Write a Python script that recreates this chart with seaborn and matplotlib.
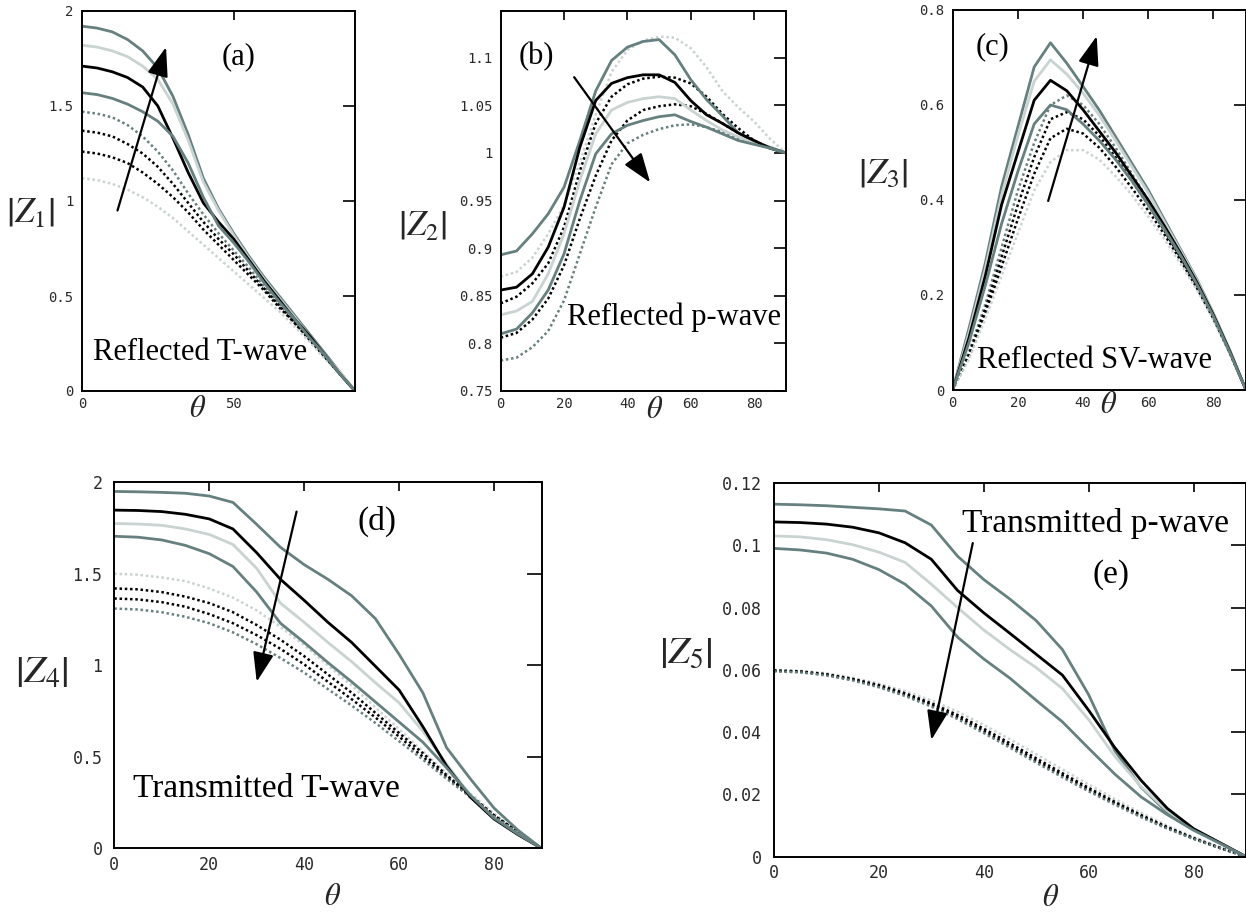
import matplotlib
matplotlib.use("Agg")
import matplotlib.pyplot as plt
import seaborn as sns
import pandas as pd

# incidence angle (degrees)
theta = [0, 5, 10, 15, 20, 25, 30, 35, 40, 45, 50, 55, 60, 65, 70, 75, 80, 85, 90]

# |Z1| reflected T-wave: four solid, four dotted curves
z1_solid = [
    [1.92, 1.91, 1.89, 1.85, 1.79, 1.70, 1.55, 1.35, 1.12, 0.96, 0.83, 0.71, 0.60, 0.50, 0.40, 0.30, 0.20, 0.10, 0.0],
    [1.82, 1.81, 1.79, 1.76, 1.71, 1.64, 1.51, 1.32, 1.10, 0.95, 0.82, 0.70, 0.59, 0.49, 0.39, 0.29, 0.19, 0.10, 0.0],
    [1.71, 1.70, 1.68, 1.65, 1.60, 1.50, 1.33, 1.15, 0.99, 0.89, 0.80, 0.69, 0.58, 0.48, 0.38, 0.29, 0.19, 0.09, 0.0],
    [1.57, 1.56, 1.54, 1.51, 1.47, 1.42, 1.34, 1.20, 1.02, 0.87, 0.78, 0.68, 0.57, 0.47, 0.38, 0.28, 0.19, 0.09, 0.0],
]
z1_dotted = [
    [1.47, 1.46, 1.44, 1.40, 1.34, 1.26, 1.16, 1.04, 0.93, 0.83, 0.74, 0.65, 0.55, 0.46, 0.37, 0.28, 0.18, 0.09, 0.0],
    [1.37, 1.36, 1.34, 1.30, 1.25, 1.18, 1.09, 0.99, 0.89, 0.80, 0.72, 0.63, 0.54, 0.45, 0.36, 0.27, 0.18, 0.09, 0.0],
    [1.26, 1.25, 1.23, 1.20, 1.15, 1.09, 1.02, 0.94, 0.85, 0.77, 0.69, 0.61, 0.53, 0.44, 0.36, 0.27, 0.18, 0.09, 0.0],
    [1.12, 1.11, 1.09, 1.06, 1.02, 0.97, 0.91, 0.84, 0.77, 0.70, 0.63, 0.56, 0.49, 0.42, 0.34, 0.26, 0.17, 0.09, 0.0],
]

# |Z2| reflected p-wave
z2_solid = [
    [0.893, 0.897, 0.915, 0.936, 0.964, 1.013, 1.065, 1.097, 1.111, 1.117, 1.119, 1.103, 1.077, 1.056, 1.039, 1.021, 1.012, 1.006, 1.0],
    [0.830, 0.834, 0.844, 0.873, 0.915, 0.971, 1.020, 1.045, 1.053, 1.057, 1.059, 1.057, 1.045, 1.034, 1.024, 1.017, 1.010, 1.005, 1.0],
    [0.856, 0.859, 0.873, 0.901, 0.943, 1.006, 1.055, 1.073, 1.079, 1.082, 1.082, 1.074, 1.055, 1.040, 1.031, 1.021, 1.013, 1.005, 1.0],
    [0.810, 0.815, 0.832, 0.856, 0.894, 0.950, 0.999, 1.020, 1.029, 1.034, 1.038, 1.040, 1.033, 1.027, 1.020, 1.013, 1.009, 1.005, 1.0],
]
z2_dotted = [
    [0.870, 0.875, 0.890, 0.915, 0.945, 0.990, 1.040, 1.085, 1.108, 1.118, 1.122, 1.121, 1.110, 1.090, 1.065, 1.048, 1.033, 1.015, 1.0],
    [0.842, 0.849, 0.863, 0.884, 0.922, 0.981, 1.031, 1.059, 1.072, 1.078, 1.080, 1.079, 1.073, 1.059, 1.041, 1.026, 1.013, 1.005, 1.0],
    [0.806, 0.811, 0.825, 0.847, 0.882, 0.931, 0.976, 1.013, 1.034, 1.045, 1.049, 1.051, 1.049, 1.041, 1.031, 1.021, 1.013, 1.005, 1.0],
    [0.782, 0.785, 0.796, 0.813, 0.845, 0.894, 0.943, 0.988, 1.010, 1.019, 1.025, 1.029, 1.030, 1.027, 1.022, 1.015, 1.010, 1.005, 1.0],
]

# |Z3| reflected SV-wave
z3_solid = [
    [0.0, 0.13, 0.267, 0.428, 0.554, 0.680, 0.731, 0.688, 0.639, 0.589, 0.533, 0.477, 0.421, 0.358, 0.295, 0.232, 0.161, 0.084, 0.0],
    [0.0, 0.12, 0.255, 0.410, 0.535, 0.650, 0.695, 0.665, 0.625, 0.578, 0.525, 0.470, 0.415, 0.353, 0.292, 0.230, 0.160, 0.083, 0.0],
    [0.0, 0.11, 0.240, 0.390, 0.500, 0.610, 0.652, 0.630, 0.590, 0.545, 0.500, 0.450, 0.400, 0.345, 0.287, 0.226, 0.158, 0.082, 0.0],
    [0.0, 0.10, 0.220, 0.350, 0.460, 0.560, 0.600, 0.590, 0.560, 0.525, 0.485, 0.440, 0.390, 0.338, 0.283, 0.222, 0.155, 0.080, 0.0],
]
z3_dotted = [
    [0.0, 0.080, 0.180, 0.300, 0.420, 0.520, 0.600, 0.620, 0.600, 0.560, 0.510, 0.455, 0.400, 0.342, 0.283, 0.222, 0.155, 0.080, 0.0],
    [0.0, 0.075, 0.170, 0.280, 0.390, 0.490, 0.570, 0.585, 0.570, 0.535, 0.490, 0.440, 0.390, 0.335, 0.278, 0.218, 0.153, 0.080, 0.0],
    [0.0, 0.070, 0.160, 0.260, 0.360, 0.455, 0.530, 0.550, 0.540, 0.510, 0.470, 0.425, 0.378, 0.327, 0.272, 0.214, 0.150, 0.078, 0.0],
    [0.0, 0.065, 0.150, 0.240, 0.330, 0.420, 0.480, 0.505, 0.505, 0.485, 0.450, 0.410, 0.365, 0.317, 0.265, 0.210, 0.147, 0.076, 0.0],
]

# |Z4| transmitted T-wave
z4_solid = [
    [1.950, 1.948, 1.945, 1.940, 1.925, 1.890, 1.770, 1.645, 1.550, 1.470, 1.380, 1.255, 1.060, 0.850, 0.550, 0.380, 0.220, 0.100, 0.0],
    [1.775, 1.772, 1.765, 1.745, 1.715, 1.660, 1.530, 1.340, 1.235, 1.125, 1.020, 0.905, 0.795, 0.640, 0.460, 0.290, 0.165, 0.078, 0.0],
    [1.848, 1.846, 1.840, 1.825, 1.800, 1.745, 1.615, 1.470, 1.355, 1.235, 1.125, 0.995, 0.865, 0.665, 0.450, 0.280, 0.160, 0.075, 0.0],
    [1.705, 1.700, 1.685, 1.655, 1.610, 1.540, 1.400, 1.230, 1.125, 1.015, 0.910, 0.800, 0.690, 0.580, 0.440, 0.290, 0.165, 0.078, 0.0],
]
z4_dotted = [
    [1.500, 1.495, 1.480, 1.460, 1.420, 1.370, 1.300, 1.210, 1.110, 1.000, 0.890, 0.770, 0.650, 0.530, 0.410, 0.300, 0.190, 0.090, 0.0],
    [1.420, 1.415, 1.400, 1.375, 1.340, 1.290, 1.220, 1.140, 1.050, 0.950, 0.850, 0.740, 0.630, 0.520, 0.400, 0.290, 0.180, 0.090, 0.0],
    [1.365, 1.360, 1.345, 1.320, 1.280, 1.230, 1.165, 1.090, 1.005, 0.910, 0.815, 0.715, 0.610, 0.500, 0.390, 0.285, 0.180, 0.090, 0.0],
    [1.310, 1.305, 1.290, 1.265, 1.230, 1.180, 1.115, 1.040, 0.960, 0.870, 0.780, 0.685, 0.585, 0.485, 0.380, 0.280, 0.175, 0.085, 0.0],
]

# |Z5| transmitted p-wave
z5_solid = [
    [0.1132, 0.1130, 0.1127, 0.1122, 0.1117, 0.1110, 0.1065, 0.0965, 0.0890, 0.0827, 0.0758, 0.0665, 0.0520, 0.0340, 0.0223, 0.0142, 0.0087, 0.0045, 0.0],
    [0.1030, 0.1027, 0.1018, 0.1002, 0.0978, 0.0945, 0.0875, 0.0800, 0.0728, 0.0665, 0.0607, 0.0540, 0.0440, 0.0322, 0.0225, 0.0148, 0.0088, 0.0044, 0.0],
    [0.1075, 0.1073, 0.1068, 0.1058, 0.1040, 0.1008, 0.0955, 0.0855, 0.0783, 0.0717, 0.0650, 0.0583, 0.0470, 0.0350, 0.0245, 0.0155, 0.0090, 0.0045, 0.0],
    [0.0990, 0.0985, 0.0975, 0.0955, 0.0922, 0.0875, 0.0805, 0.0705, 0.0635, 0.0573, 0.0502, 0.0433, 0.0348, 0.0265, 0.0192, 0.0135, 0.0085, 0.0043, 0.0],
]
z5_dotted = [
    [0.0600, 0.0597, 0.0589, 0.0575, 0.0556, 0.0532, 0.0502, 0.0466, 0.0423, 0.0377, 0.0329, 0.0280, 0.0232, 0.0185, 0.0141, 0.0100, 0.0063, 0.0030, 0.0],
    [0.0598, 0.0595, 0.0586, 0.0571, 0.0551, 0.0525, 0.0493, 0.0455, 0.0411, 0.0364, 0.0316, 0.0268, 0.0221, 0.0176, 0.0134, 0.0095, 0.0060, 0.0029, 0.0],
    [0.0597, 0.0594, 0.0584, 0.0568, 0.0547, 0.0520, 0.0487, 0.0448, 0.0403, 0.0356, 0.0308, 0.0261, 0.0215, 0.0171, 0.0130, 0.0092, 0.0058, 0.0028, 0.0],
    [0.0595, 0.0592, 0.0582, 0.0566, 0.0544, 0.0516, 0.0482, 0.0442, 0.0397, 0.0350, 0.0302, 0.0255, 0.0210, 0.0167, 0.0127, 0.0090, 0.0057, 0.0028, 0.0],
]

SLATE = "#66807f"
LIGHT = "#c9d3d2"
BLACK = "#000000"
solid_colors = [SLATE, LIGHT, BLACK, SLATE]
dot_colors = {
    "a": [SLATE, BLACK, BLACK, LIGHT],
    "b": [LIGHT, BLACK, BLACK, SLATE],
    "c": [SLATE, BLACK, BLACK, LIGHT],
    "d": [LIGHT, BLACK, BLACK, SLATE],
    "e": [LIGHT, BLACK, BLACK, SLATE],
}

sns.set_style("white")
plt.rcParams["mathtext.fontset"] = "stix"
SERIF = ["Liberation Serif", "DejaVu Serif"]
TICKFONT = "DejaVu Sans Mono"

W, H = 1246, 913
fig = plt.figure(figsize=(W / 100, H / 100), dpi=100)


def add_axes_px(x0, y0, x1, y1):
    return fig.add_axes([x0 / W, 1 - y1 / H, (x1 - x0) / W, (y1 - y0) / H])


def draw_panel(ax, solid, dotted, dcols, ylim, yticks, ylabels, xticks, small):
    for vals, col in zip(dotted, dcols):
        df = pd.DataFrame({"theta": theta, "z": vals})
        sns.lineplot(data=df, x="theta", y="z", ax=ax, color=col, lw=1.8,
                     linestyle=(0, (1.0, 1.1)), sort=False, estimator=None)
    for vals, col in zip(solid, solid_colors):
        df = pd.DataFrame({"theta": theta, "z": vals})
        sns.lineplot(data=df, x="theta", y="z", ax=ax, color=col, lw=2.0,
                     sort=False, estimator=None)
    ax.set_xlim(0, 90)
    ax.set_ylim(*ylim)
    ax.set_xticks(xticks)
    ax.set_xticklabels([str(t) for t in xticks])
    ax.set_yticks(yticks)
    ax.set_yticklabels(ylabels)
    fs = 10 if small else 12
    ax.tick_params(axis="both", direction="in", top=True, right=True,
                   labelsize=fs, labelcolor="#2a2a2a", width=1.2, color="black")
    ax.tick_params(axis="x", length=6.5, pad=4.5 if small else 5.5)
    ax.tick_params(axis="y", length=9 if small else 11, pad=6 if small else 8.5)
    for lab in ax.get_xticklabels() + ax.get_yticklabels():
        lab.set_fontfamily(TICKFONT)
    for sp in ax.spines.values():
        sp.set_visible(True)
        sp.set_color("black")
        sp.set_linewidth(1.4)
    ax.set_xlabel("")
    ax.set_ylabel("")


def fmt(vals):
    return ["%g" % v for v in vals]


# (a)
ax_a = add_axes_px(82, 11, 355, 391)
draw_panel(ax_a, z1_solid, z1_dotted, dot_colors["a"], (0, 2),
           [0, 0.5, 1, 1.5, 2], fmt([0, 0.5, 1, 1.5, 2]), [0, 50], True)
# (b)
ax_b = add_axes_px(500.7, 11, 785.7, 391)
b_ticks = [0.75, 0.8, 0.85, 0.9, 0.95, 1.0, 1.05, 1.1]
draw_panel(ax_b, z2_solid, z2_dotted, dot_colors["b"], (0.75, 1.149),
           b_ticks, fmt(b_ticks), [0, 20, 40, 60, 80], True)
# (c)
ax_c = add_axes_px(952.7, 10, 1246, 390)
c_ticks = [0, 0.2, 0.4, 0.6, 0.8]
draw_panel(ax_c, z3_solid, z3_dotted, dot_colors["c"], (0, 0.8),
           c_ticks, fmt(c_ticks), [0, 20, 40, 60, 80], True)
# (d)
ax_d = add_axes_px(114.3, 482.3, 541.5, 848.3)
draw_panel(ax_d, z4_solid, z4_dotted, dot_colors["d"], (0, 2),
           [0, 0.5, 1, 1.5, 2], fmt([0, 0.5, 1, 1.5, 2]), [0, 20, 40, 60, 80], False)
# (e)
ax_e = add_axes_px(774, 483, 1246, 856.7)
e_ticks = [0, 0.02, 0.04, 0.06, 0.08, 0.1, 0.12]
draw_panel(ax_e, z5_solid, z5_dotted, dot_colors["e"], (0, 0.12),
           e_ticks, fmt(e_ticks), [0, 20, 40, 60, 80], False)

# axis titles
panels = [
    (ax_a, r"$\left|Z_{1}\right|$", (-0.19, 0.471), (0.425, -0.045), 25),
    (ax_b, r"$\left|Z_{2}\right|$", (-0.276, 0.437), (0.541, -0.05), 25),
    (ax_c, r"$\left|Z_{3}\right|$", (-0.238, 0.571), (0.533, -0.039), 26),
    (ax_d, r"$\left|Z_{4}\right|$", (-0.169, 0.482), (0.51, -0.133), 28),
    (ax_e, r"$\left|Z_{5}\right|$", (-0.186, 0.548), (0.585, -0.108), 28),
]
for ax, ylab, ypos, xpos, yfs in panels:
    ax.text(*ypos, ylab, transform=ax.transAxes, fontsize=yfs,
            ha="center", va="center")
    ax.text(*xpos, r"$\theta$", transform=ax.transAxes, fontsize=22,
            ha="center", va="center")

# panel tags and wave names
tags = [
    (ax_a, "(a)", (0.575, 0.879), "center", "center", 22),
    (ax_a, "Reflected T-wave", (0.041, 0.082), "left", "baseline", 22),
    (ax_b, "(b)", (0.126, 0.879), "center", "center", 22),
    (ax_b, "Reflected p-wave", (0.232, 0.174), "left", "baseline", 22),
    (ax_c, "(c)", (0.136, 0.903), "center", "center", 22),
    (ax_c, "Reflected SV-wave", (0.082, 0.057), "left", "baseline", 22),
    (ax_d, "(d)", (0.616, 0.892), "center", "center", 24),
    (ax_d, "Transmitted T-wave", (0.043, 0.141), "left", "baseline", 24),
    (ax_e, "Transmitted p-wave", (0.399, 0.870), "left", "baseline", 24),
    (ax_e, "(e)", (0.714, 0.754), "center", "center", 24),
]
for ax, txt, pos, ha, va, fs in tags:
    ax.text(*pos, txt, transform=ax.transAxes, fontsize=fs, ha=ha, va=va,
            family=SERIF, color="black")

# arrows showing the trend of the parameter
arrows = [
    (ax_a, (11.7, 0.95), (27.7, 1.81)),
    (ax_b, (23.2, 1.0795), (47.2, 0.969)),
    (ax_c, (29.3, 0.398), (44.2, 0.745)),
    (ax_d, (38.4, 1.84), (30.0, 0.91)),
    (ax_e, (37.9, 0.1007), (30.0, 0.0375)),
]
for ax, start, tip in arrows:
    ax.annotate("", xy=tip, xytext=start, xycoords="data", textcoords="data",
                arrowprops=dict(arrowstyle="-|>,head_length=0.9,head_width=0.32",
                                color="black", lw=1.6, mutation_scale=20,
                                shrinkA=0, shrinkB=0))

fig.savefig("out.png", dpi=100, facecolor="white")
